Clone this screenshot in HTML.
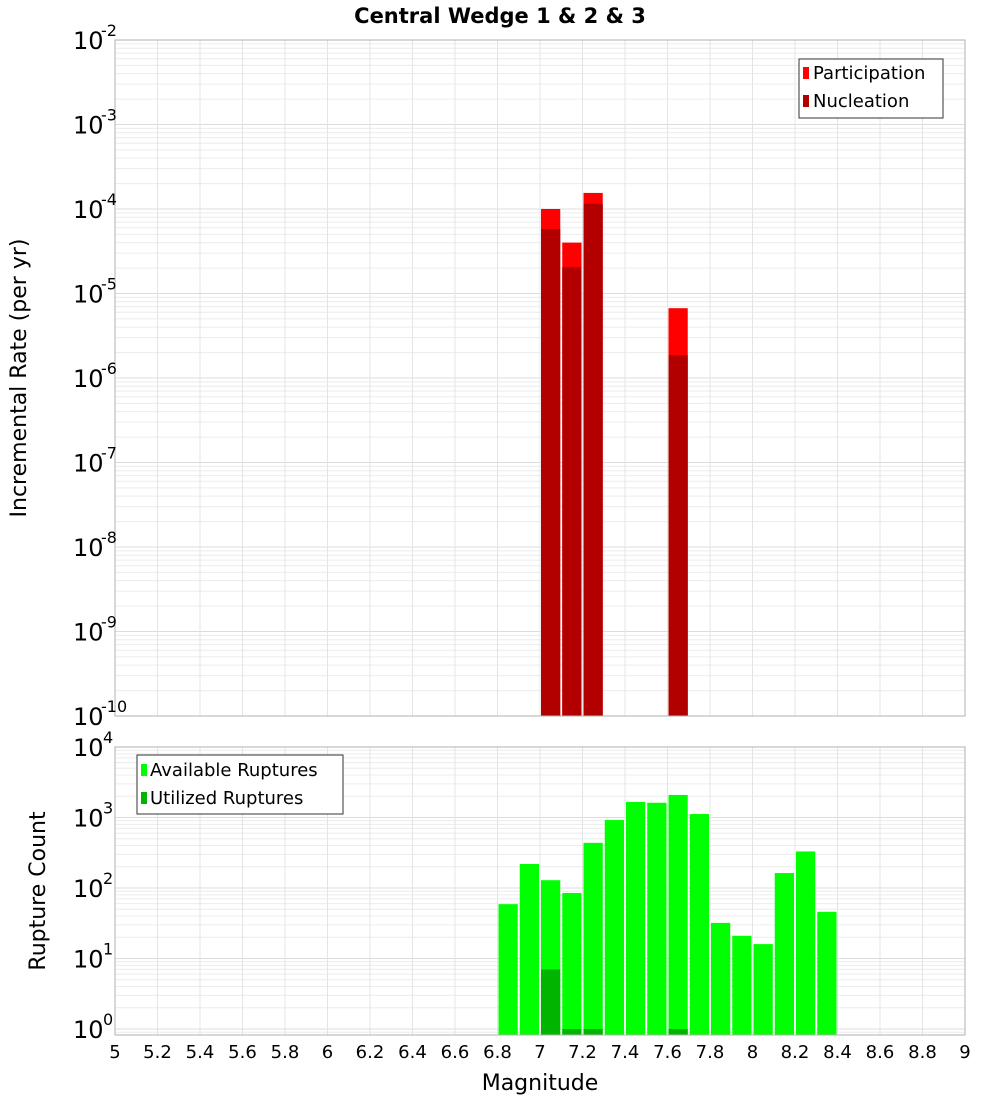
<!DOCTYPE html>
<html><head><meta charset="utf-8">
<style>
body{margin:0;background:#fff;font-family:"DejaVu Sans","Liberation Sans",sans-serif;}
svg text{font-family:"DejaVu Sans","Liberation Sans",sans-serif;}
</style></head>
<body>
<svg id="chart" width="1000" height="1100" xmlns="http://www.w3.org/2000/svg">
<text x="500" y="23" text-anchor="middle" font-size="21" font-weight="bold">Central Wedge 1 &amp; 2 &amp; 3</text>
<g id="top"></g><g id="bot"></g>
<text x="540" y="1090" text-anchor="middle" font-size="22">Magnitude</text>
<text transform="translate(26,378) rotate(-90)" text-anchor="middle" font-size="22">Incremental Rate (per yr)</text>
<text transform="translate(45,891) rotate(-90)" text-anchor="middle" font-size="22">Rupture Count</text>
</svg>
<script>
const rateMags=[7.05,7.15,7.25,7.65];
const participation=[1.0e-4,4.0e-5,1.55e-4,6.7e-6];
const nucleation=[5.8e-5,2.05e-5,1.15e-4,1.87e-6];
const countMags=[6.85,6.95,7.05,7.15,7.25,7.35,7.45,7.55,7.65,7.75,7.85,7.95,8.05,8.15,8.25,8.35];
const available=[59,219,129,85,437,920,1660,1620,2090,1120,32,21,16,163,330,46];
const utilMags=[7.05,7.15,7.25,7.65];
const utilized=[7,1,1,1];
const xTicks=[5,5.2,5.4,5.6,5.8,6,6.2,6.4,6.6,6.8,7,7.2,7.4,7.6,7.8,8,8.2,8.4,8.6,8.8,9];
const topExps=[-10,-9,-8,-7,-6,-5,-4,-3,-2];
const botExps=[0,1,2,3,4];

const NS="http://www.w3.org/2000/svg";
const X0=115,X1=965;
const xs=m=>X0+(m-5)/4*(X1-X0);
function mk(p,t,a){const e=document.createElementNS(NS,t);for(const k in a)e.setAttribute(k,a[k]);p.appendChild(e);return e;}
function panel(g,top,bottom,lmin,lmax,name){
  const ys=v=>bottom-(Math.log10(v)-lmin)/(lmax-lmin)*(bottom-top);
  const grid=mk(g,'g',{});
  
  
  for(let e=Math.floor(lmin);e<lmax;e++)for(let k=1;k<10;k++){const v=k*Math.pow(10,e);const y=ys(v);if(y<top||y>bottom)continue;
    mk(grid,'line',{x1:X0,x2:X1,y1:y,y2:y,stroke:k==1?'#dcdcdc':'#ececec','stroke-width':1});}
  xTicks.forEach(t=>mk(grid,'line',{x1:xs(t),x2:xs(t),y1:top,y2:bottom,stroke:'#e4e4e4','stroke-width':1}));
  return ys;
}
function bars(g,mags,vals,ys,bottom,color,name){
  mags.forEach((m,i)=>{const x=xs(m-0.05)+1;const w=xs(m+0.05)-xs(m-0.05)-2;const y=Math.max(ys(vals[i]),0);
    const r=mk(g,'rect',{x:x,y:y,width:w,height:bottom-y,fill:color});
    
    });
}
// top panel
const gt=document.getElementById('top');
const T0=40,T1=716;
const yt=panel(gt,T0,T1,-10,-2,'top');
bars(gt,rateMags,participation,yt,T1,'#ff0000','participation');
bars(gt,rateMags,nucleation,yt,T1,'#b20000','nucleation');
mk(gt,'rect',{x:X0,y:T0,width:X1-X0,height:T1-T0,fill:'none',stroke:'#b0b0b0'});
topExps.forEach(e=>{const y=yt(Math.pow(10,e));
  const t=mk(gt,'text',{x:73,y:y+9,'font-size':24});t.textContent='10';
  
  
  const s=mk(gt,'text',{x:101,y:y-4,'font-size':16});s.textContent=String(e);
  
  });
// top legend
const lt=mk(gt,'g',{});


mk(lt,'rect',{x:799,y:59,width:144,height:59,fill:'#fff',stroke:'#333'});
mk(lt,'rect',{x:803,y:67,width:6,height:12,fill:'#ff0000'});
mk(lt,'rect',{x:803,y:95,width:6,height:12,fill:'#b20000'});
let tx=mk(lt,'text',{x:813,y:79,'font-size':18});tx.textContent='Participation';
tx=mk(lt,'text',{x:813,y:107,'font-size':18});tx.textContent='Nucleation';
// bottom panel
const gb=document.getElementById('bot');
const B0=747,B1=1035;
const lmin=-(B1-1029)/((1029-B0)/4);
const yb=panel(gb,B0,B1,lmin,4,'bottom');
bars(gb,countMags,available,yb,B1,'#00ff00','available');
bars(gb,utilMags,utilized,yb,B1,'#00b400','utilized');
mk(gb,'rect',{x:X0,y:B0,width:X1-X0,height:B1-B0,fill:'none',stroke:'#b0b0b0'});
botExps.forEach(e=>{const y=yb(Math.pow(10,e));
  const t=mk(gb,'text',{x:73,y:y+9,'font-size':24});t.textContent='10';
  
  
  const s=mk(gb,'text',{x:103,y:y-4,'font-size':16});s.textContent=String(e);
  
  });
const lb=mk(gb,'g',{});


mk(lb,'rect',{x:137,y:755,width:206,height:59,fill:'#fff',stroke:'#333'});
mk(lb,'rect',{x:141,y:764,width:6,height:12,fill:'#00ff00'});
mk(lb,'rect',{x:141,y:792,width:6,height:12,fill:'#00b400'});
tx=mk(lb,'text',{x:150,y:776,'font-size':18});tx.textContent='Available Ruptures';
tx=mk(lb,'text',{x:150,y:804,'font-size':18});tx.textContent='Utilized Ruptures';
// x ticks
xTicks.forEach(t=>{const e=mk(gb,'text',{x:xs(t),y:1058,'text-anchor':'middle','font-size':18});e.textContent=String(t);
  
  });
</script>
</body></html>
